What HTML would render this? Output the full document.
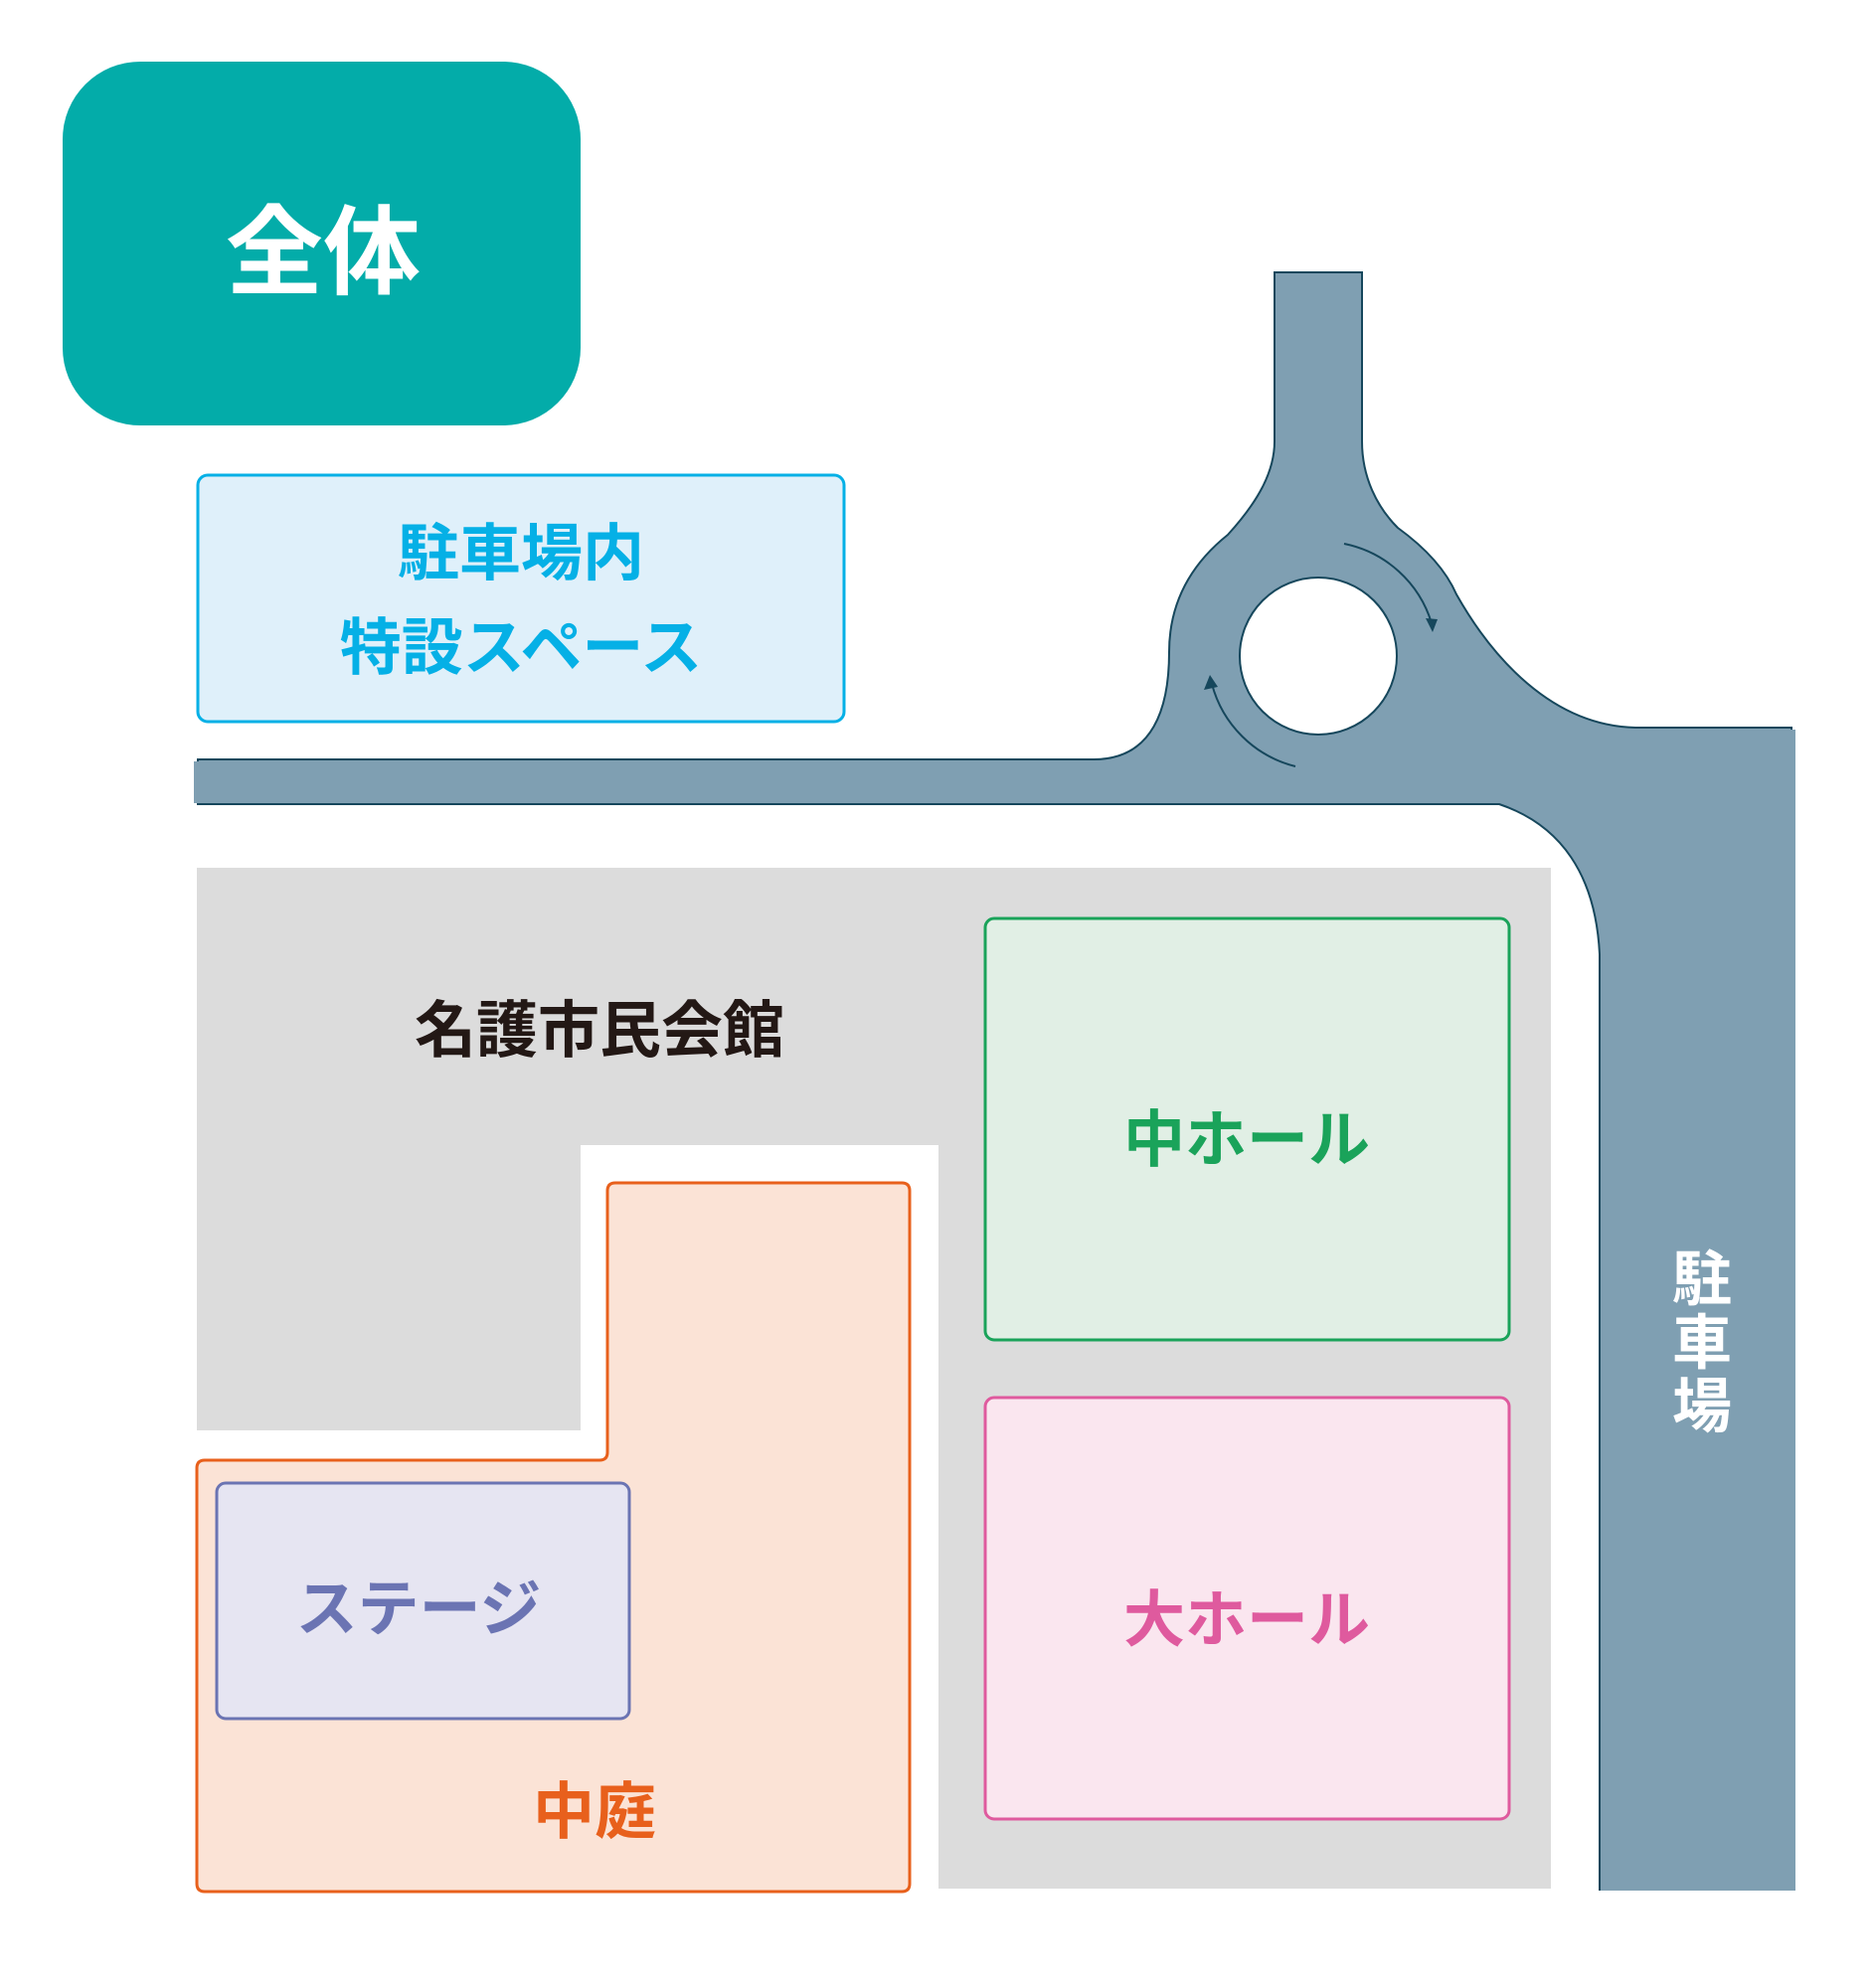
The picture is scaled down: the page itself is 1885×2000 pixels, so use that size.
<!DOCTYPE html>
<html><head><meta charset="utf-8"><style>
html,body{margin:0;padding:0;background:#fff}
svg{display:block}
text{font-family:"Liberation Sans","Noto Sans CJK JP",sans-serif;font-weight:bold}
</style></head><body>
<svg width="1885" height="2000" viewBox="0 0 1885 2000" xmlns="http://www.w3.org/2000/svg">
<rect x="63" y="62" width="521" height="366" rx="78" fill="#03aca9"/>
<text x="325" y="288" font-size="98" fill="#fff" text-anchor="middle" font-weight="normal">全体</text>

<rect x="199" y="478" width="650" height="248" rx="10" fill="#dff0fa" stroke="#05b0e6" stroke-width="3"/>
<text x="524" y="578" font-size="62" fill="#05b0e6" text-anchor="middle">駐車場内</text>
<text x="524" y="673" font-size="62" fill="#05b0e6" text-anchor="middle">特設スペース</text>

<!-- road -->
<path d="M199,764 L1100,764 C1160,764 1176,712 1176,656 C1176,610 1195,570 1235,538 C1265,505 1282,475 1282,444 L1282,274 L1370,274 L1370,444 C1370,480 1385,510 1406,531 C1435,552 1455,575 1465,598 C1500,660 1560,730 1645,732 L1802,732 L1802,1910 L1609,1910 L1609,960 C1605,880 1570,830 1508,809 L199,809 Z" fill="#7f9fb2" stroke="#16475c" stroke-width="2"/>
<rect x="195" y="766" width="6" height="42" fill="#7f9fb2"/>
<rect x="1796" y="734" width="10" height="1178" fill="#7f9fb2"/>
<rect x="1605" y="1902" width="202" height="12" fill="#fff"/>
<circle cx="1326" cy="660" r="79" fill="#fff" stroke="#16475c" stroke-width="2"/>
<path d="M1352,547 A116,116 0 0 1 1440,627" fill="none" stroke="#16475c" stroke-width="2"/>
<path d="M1434,622 L1446,623 L1441,636 Z" fill="#16475c"/>
<path d="M1303,771 A116,116 0 0 1 1219,688" fill="none" stroke="#16475c" stroke-width="2"/>
<path d="M1211,694 L1217,679 L1225,691 Z" fill="#16475c"/>

<!-- building -->
<path d="M198,873 L1560,873 L1560,1900 L944,1900 L944,1152 L584,1152 L584,1439 L198,1439 Z" fill="#dcdcdc"/>
<path d="M611,1198 Q611,1190 619,1190 L907,1190 Q915,1190 915,1198 L915,1895 Q915,1903 907,1903 L206,1903 Q198,1903 198,1895 L198,1477 Q198,1469 206,1469 L603,1469 Q611,1469 611,1461 Z" fill="#fbe3d6" stroke="#e8601c" stroke-width="3"/>
<rect x="218" y="1492" width="415" height="237" rx="9" fill="#e6e5f2" stroke="#6b74b3" stroke-width="3"/>
<rect x="991" y="924" width="527" height="424" rx="9" fill="#e1efe5" stroke="#1aa35a" stroke-width="3"/>
<rect x="991" y="1406" width="527" height="424" rx="9" fill="#fae6ef" stroke="#df5a9e" stroke-width="3"/>

<text x="603" y="1058" font-size="62" fill="#231815" text-anchor="middle">名護市民会館</text>
<text x="1254" y="1168" font-size="62" fill="#1aa35a" text-anchor="middle">中ホール</text>
<text x="1254" y="1651" font-size="62" fill="#df5a9e" text-anchor="middle">大ホール</text>
<text x="421" y="1640" font-size="62" fill="#6b74b3" text-anchor="middle">ステージ</text>
<text x="598" y="1844" font-size="62" fill="#e8601c" text-anchor="middle">中庭</text>
<text x="1712" y="1308" font-size="60" fill="#fff" text-anchor="middle">駐</text>
<text x="1712" y="1372" font-size="60" fill="#fff" text-anchor="middle">車</text>
<text x="1712" y="1436" font-size="60" fill="#fff" text-anchor="middle">場</text>
</svg>
</body></html>
